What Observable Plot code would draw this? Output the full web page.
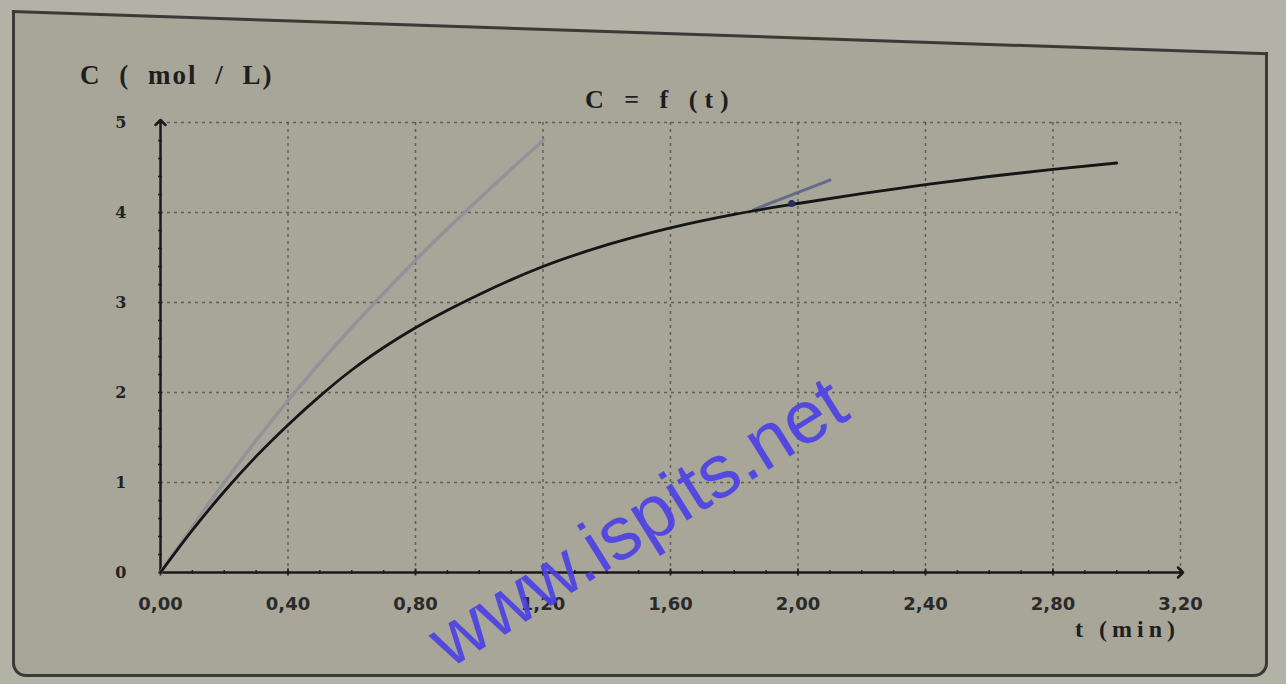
<!DOCTYPE html>
<html>
<head>
<meta charset="utf-8">
<script src="https://cdn.jsdelivr.net/npm/d3@7"></script>
<script src="https://cdn.jsdelivr.net/npm/@observablehq/plot@0.6"></script>
<style>
  html, body { margin: 0; padding: 0; }
  body { width: 1286px; height: 684px; background: #b3b2a6; position: relative; overflow: hidden; }
  #frame { position: absolute; left: 12px; top: 10px; width: 1250px; height: 664px;
           border: 3px solid #3b3a36; border-top: none; border-radius: 0 0 14px 14px; background: #a7a699;
           clip-path: polygon(0 0, 100% 42px, 100% 100%, 0 100%); }
  #topline { position: absolute; left: 12px; top: 10px; width: 1256px; height: 3px; background: #3b3a36;
             transform-origin: left top; transform: rotate(1.93deg); }
  #chart { position: absolute; left: 0; top: 0; }
  .lbl { position: absolute; color: #1e1e1e; font-family: "Liberation Serif", "DejaVu Serif", serif; white-space: nowrap; font-weight: bold; }
  #wm { position: absolute; left: 436px; top: 610px; font-family: "Liberation Sans", Arial, sans-serif;
        font-size: 75px; line-height: 75px; color: #4b3fe6; transform: rotate(-32deg); transform-origin: left center; opacity: 0.9; }
</style>
</head>
<body>
<div id="frame"></div>
<div id="topline"></div>
<div id="chart"></div>
<div class="lbl" style="left:80px; top:60px; font-size:27px; letter-spacing:2px; word-spacing:9px;">C ( mol / L)</div>
<div class="lbl" style="left:585px; top:85px; font-size:26px; letter-spacing:7px;">C = f (t)</div>
<div class="lbl" style="left:1075px; top:616px; font-size:24px; letter-spacing:5px;">t (min)</div>
<div id="wm">www.ispits.net</div>
<script>
// Curve C = f(t)
const tMin = [0, 0.1, 0.2, 0.3, 0.4, 0.5, 0.6, 0.7, 0.8, 1.0, 1.2, 1.4, 1.6, 1.8, 2.0, 2.2, 2.4, 2.6, 2.8, 3.0];
const cMol = [0, 0.47, 0.90, 1.29, 1.64, 1.96, 2.25, 2.50, 2.72, 3.09, 3.40, 3.64, 3.83, 3.98, 4.10, 4.21, 4.31, 4.40, 4.48, 4.55];
// Hand-drawn tangent at the origin (gray)
const tangentT = [0, 0.2, 0.4, 0.8, 1.2];
const tangentC = [0, 1.0, 1.91, 3.47, 4.80];
// Short tangent near t = 2 (blue pen)
const tangent2T = [1.86, 2.10];
const tangent2C = [4.03, 4.36];
const penMarkT = [1.98];
const penMarkC = [4.10];
// Axis ticks
const xTicks = [0, 0.4, 0.8, 1.2, 1.6, 2.0, 2.4, 2.8, 3.2];
const yTicks = [0, 1, 2, 3, 4, 5];
const xMinor = d3.range(0, 33).map(i => i / 10);
const yMinor = d3.range(0, 26).map(i => i / 5);
// Axis lines (with arrows)
const xAxisT = [0, 3.2];
const yAxisC = [0, 5];

const curve = tMin.map((t, i) => ({t, c: cMol[i]}));
const tangent = tangentT.map((t, i) => ({t, c: tangentC[i]}));
const tangent2 = tangent2T.map((t, i) => ({t, c: tangent2C[i]}));
const penMark = penMarkT.map((t, i) => ({t, c: penMarkC[i]}));
const xAxisLine = xAxisT.map(t => ({t, c: 0}));
const yAxisLine = yAxisC.map(c => ({t: 0, c}));

const chart = Plot.plot({
  width: 1286,
  height: 684,
  marginLeft: 160,
  marginRight: 106,
  marginTop: 122,
  marginBottom: 112,
  style: {background: "transparent", color: "#1e1e1e"},
  x: {domain: [0, 3.2], label: null},
  y: {domain: [0, 5], label: null},
  marks: [
    Plot.gridX(xTicks.filter(d => d > 0), {stroke: "#4a4a45", strokeOpacity: 0.75, strokeDasharray: "3,4", strokeWidth: 1.5}),
    Plot.gridY(yTicks.filter(d => d > 0), {stroke: "#4a4a45", strokeOpacity: 0.75, strokeDasharray: "3,4", strokeWidth: 1.5}),
    Plot.axisX(xMinor, {tickSize: 4, text: null, dy: -2, stroke: "#222", strokeWidth: 1.5, label: null}),
    Plot.axisX(xTicks, {tickSize: 7, dy: -3.5, tickPadding: 21, tickFormat: d => d.toFixed(2).replace(".", ","),
      fontSize: 18, fontWeight: "bold", fontFamily: "DejaVu Sans, sans-serif", fill: "#2a2a2a", stroke: "#222",
      strokeWidth: 1.8, label: null, style: {letterSpacing: "4px"}}),
    Plot.axisY(yMinor, {tickSize: 4, text: null, dx: 2, stroke: "#222", strokeWidth: 1.5, label: null}),
    Plot.axisY(yTicks, {tickSize: 0, tickPadding: 34, tickFormat: d => String(d), fontSize: 16, fontWeight: "bold",
      fontFamily: "DejaVu Serif, serif", fill: "#222", label: null}),
    Plot.line(xAxisLine, {x: "t", y: "c", stroke: "#1a1a1a", strokeWidth: 2.5, markerEnd: "arrow"}),
    Plot.line(yAxisLine, {x: "t", y: "c", stroke: "#1a1a1a", strokeWidth: 2.5, markerEnd: "arrow"}),
    Plot.line(tangent, {x: "t", y: "c", stroke: "#8f9197", strokeWidth: 3.5, strokeOpacity: 0.9, curve: "monotone-x"}),
    Plot.line(tangent2, {x: "t", y: "c", stroke: "#5a5f86", strokeWidth: 3, strokeOpacity: 0.85}),
    Plot.line(curve, {x: "t", y: "c", stroke: "#151515", strokeWidth: 2.8, curve: "monotone-x"}),
    Plot.dot(penMark, {x: "t", y: "c", r: 3.5, fill: "#2c2f5a", stroke: "none"})
  ]
});
document.getElementById("chart").appendChild(chart);
</script>
</body>
</html>
